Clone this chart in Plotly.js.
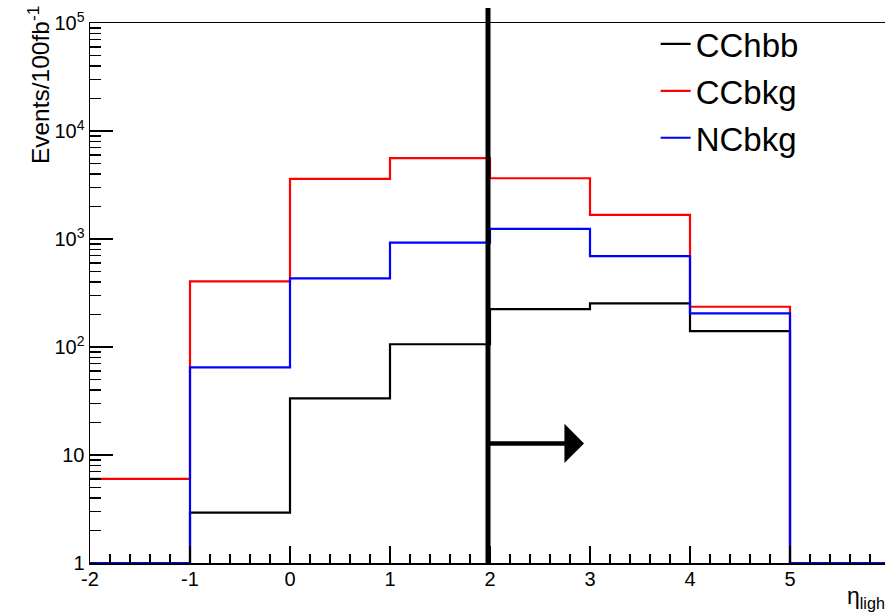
<!DOCTYPE html>
<html>
<head>
<meta charset="utf-8">
<script src="https://cdn.plot.ly/plotly-3.0.1.min.js"></script>
<style>html,body{margin:0;padding:0;background:#fff;}#chart{width:885px;height:613px;}</style>
</head>
<body>
<div id="chart"></div>
<script>
// Bin edges of eta_light (histogram bins of width 1)
const binEdges = [-2, -1, 0, 1, 2, 3, 4, 5, 6];
// Events / 100 fb^-1 per bin
const ccHbb = [0, 2.93, 33.4, 106, 224, 254, 140, 0];
const ccBkg = [6.0, 405, 3600, 5600, 3650, 1670, 236, 0];
const ncBkg = [0, 64.7, 432, 924, 1240, 695, 205, 0];
const seriesNames = ['CChbb', 'CCbkg', 'NCbkg'];
const seriesColors = ['#000000', '#ff0000', '#0000ff'];
// Tick labels
const xTickVals = [-2, -1, 0, 1, 2, 3, 4, 5];
const xTickText = ['-2', '-1', '0', '1', '2', '3', '4', '5'];
const yTickVals = [1, 10, 100, 1000, 10000, 100000];
const yTickText = ['1', '10', '10<sup>2</sup>', '10<sup>3</sup>', '10<sup>4</sup>', '10<sup>5</sup>'];
// Cut and arrow
const cutValue = 1.98;
const arrowEnd = 2.94;
const arrowLevel = 12.8;

const yFloor = 1;
const FONT = 'Liberation Sans, Arial, Helvetica, sans-serif';

function stepTrace(vals, name, color) {
  const y = vals.map(v => Math.max(v, yFloor));
  y.push(y[y.length - 1]);
  return {
    type: 'scatter', mode: 'lines', x: binEdges, y: y, name: name, legendgroup: name,
    line: {shape: 'hv', color: color, width: 2.2}, hoverinfo: 'skip'
  };
}
const data = [
  stepTrace(ccHbb, seriesNames[0], seriesColors[0]),
  stepTrace(ccBkg, seriesNames[1], seriesColors[1]),
  stepTrace(ncBkg, seriesNames[2], seriesColors[2])
];

const minorY = [];
for (let d = 0; d < 5; d++) for (let k = 2; k <= 9; k++) minorY.push(k * Math.pow(10, d));

const layout = {
  width: 885, height: 613,
  margin: {l: 90, r: 0, t: 23, b: 50, pad: 0},
  paper_bgcolor: '#fff', plot_bgcolor: '#fff',
  font: {family: FONT, color: '#000', size: 20},
  showlegend: true,
  legend: {
    x: 0.7115, y: 1.013, xanchor: 'left', yanchor: 'top',
    font: {family: FONT, size: 33, color: '#000'},
    bgcolor: 'rgba(0,0,0,0)', borderwidth: 0, tracegroupgap: 1
  },
  xaxis: {
    range: [-2, 5.95], showgrid: false, zeroline: false,
    showline: true, linecolor: '#000', linewidth: 1.5, mirror: true,
    ticks: 'inside', ticklen: 17, tickwidth: 1.3, tickcolor: '#000',
    tickmode: 'array', tickvals: xTickVals, ticktext: xTickText,
    tickfont: {family: FONT, size: 20, color: '#000'},
    ticklabelstandoff: -3,
    minor: {ticks: 'inside', ticklen: 9, tickwidth: 1.3, tickcolor: '#000', dtick: 0.2, tick0: -2, showgrid: false}
  },
  yaxis: {
    type: 'log', range: [0, 5], showgrid: false, zeroline: false,
    showline: true, linecolor: '#000', linewidth: 1.5, mirror: false,
    ticks: 'inside', ticklen: 23, tickwidth: 1.3, tickcolor: '#000',
    tickmode: 'array', tickvals: yTickVals, ticktext: yTickText,
    tickfont: {family: FONT, size: 20, color: '#000'},
    minor: {ticks: 'inside', ticklen: 11, tickwidth: 1.3, tickcolor: '#000', tickmode: 'array', tickvals: minorY, showgrid: false}
  },
  shapes: [{
    type: 'line', xref: 'x', yref: 'paper', x0: cutValue, x1: cutValue, y0: 0, y1: 1.028,
    line: {color: '#000', width: 5}, layer: 'above'
  }],
  annotations: [
    {
      xref: 'x', yref: 'y', axref: 'x', ayref: 'y',
      x: arrowEnd, y: Math.log10(arrowLevel), ax: cutValue, ay: Math.log10(arrowLevel),
      text: '', showarrow: true, arrowhead: 1, arrowsize: 1.45, arrowwidth: 4.5, arrowcolor: '#000', standoff: 0, startstandoff: 0
    },
    {
      xref: 'paper', yref: 'paper', x: -0.0654, y: 1.035, xanchor: 'center', yanchor: 'top',
      text: 'Events/100fb<sup>-1</sup>', textangle: -90, showarrow: false,
      font: {family: FONT, size: 24.5, color: '#000'}
    },
    {
      xref: 'paper', yref: 'paper', x: 0.950, y: -0.033, xanchor: 'left', yanchor: 'top',
      text: 'η<sub>light jet</sub>', showarrow: false,
      font: {family: FONT, size: 23, color: '#000'}
    }
  ]
};

Plotly.newPlot('chart', data, layout, {staticPlot: true, displayModeBar: false});
</script>
</body>
</html>
